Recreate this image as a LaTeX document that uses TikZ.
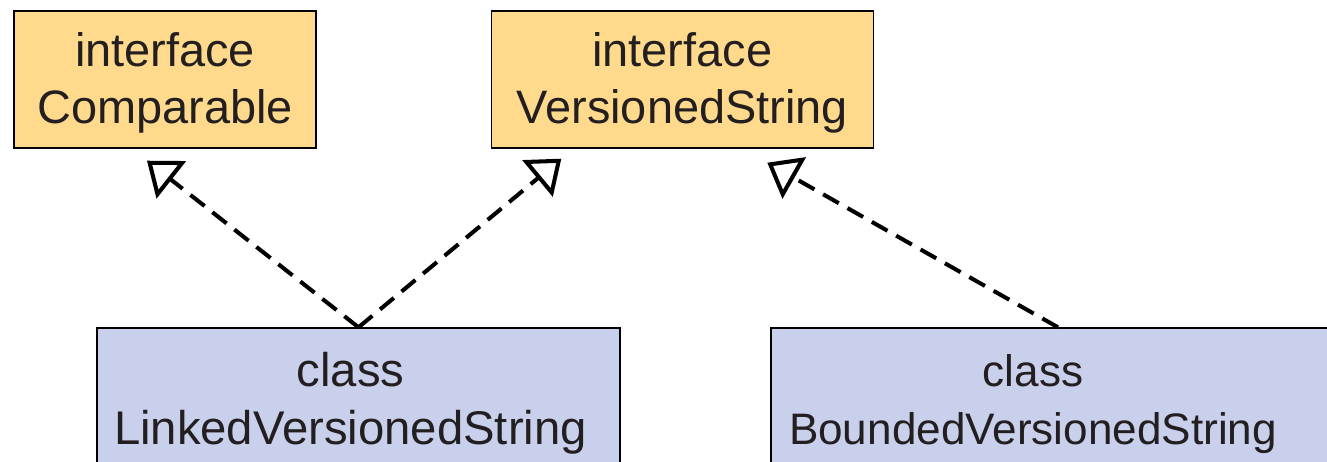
\documentclass[tikz,border=0pt]{standalone}
\usepackage{fontspec}
\setmainfont{Liberation Sans}
\usetikzlibrary{arrows.meta,positioning}

\definecolor{ifacefill}{HTML}{FFD98C}
\definecolor{clsfill}{HTML}{C9D0EC}
\definecolor{inktext}{HTML}{231F20}

\begin{document}
\begin{tikzpicture}[x=0.02cm,y=-0.02cm,
	box/.style={draw=black,line width=0.8pt,align=center,inner sep=0pt,
		text=inktext,minimum height=2.74cm,
		font=\fontsize{26.7pt}{32.4pt}\selectfont},
	iface/.style={box,fill=ifacefill,text height=1.97cm},
	cls/.style={box,fill=clsfill,text height=2.1cm},
	realizes/.style={line width=2.3pt,dash pattern=on 0.36cm off 0.2cm,
		-{Triangle[open,length=0.62cm,width=0.94cm]}}]

	% page frame, the class boxes run off the bottom and right edge
	\path[use as bounding box,clip] (0,0) rectangle (1327,461);

	% the two interfaces on top
	\node[iface,minimum width=6.04cm] (cmp) at (165,79.5) {interface\\Comparable};
	\node[iface,minimum width=7.64cm] (vs) [right=3.48cm of cmp] {interface\\VersionedString};

	% the two classes below
	\node[cls,minimum width=10.46cm,font=\fontsize{26.9pt}{33pt}\selectfont]
		(lvs) at (358.5,396.5) {class\hspace*{0.32cm}\\LinkedVersionedString\hspace*{0.32cm}};
	\node[cls,minimum width=11.48cm,font=\fontsize{25.1pt}{33pt}\selectfont]
		(bvs) at (1058,396.5) {class\hspace*{1cm}\\BoundedVersionedString\hspace*{1cm}};

	% where the arrow tips stop, a bit under the interfaces
	\coordinate (cmp in) at ([shift={(-18,12)}]cmp.south);
	\coordinate (vs in l) at ([shift={(-121,10)}]vs.south);
	\coordinate (vs in r) at ([shift={(85,14)}]vs.south);

	% realization arrows
	\draw[realizes] (lvs.north) -- (cmp in);
	\draw[realizes] (lvs.north) -- (vs in l);
	\draw[realizes] (bvs.north) -- (vs in r);

\end{tikzpicture}
\end{document}
